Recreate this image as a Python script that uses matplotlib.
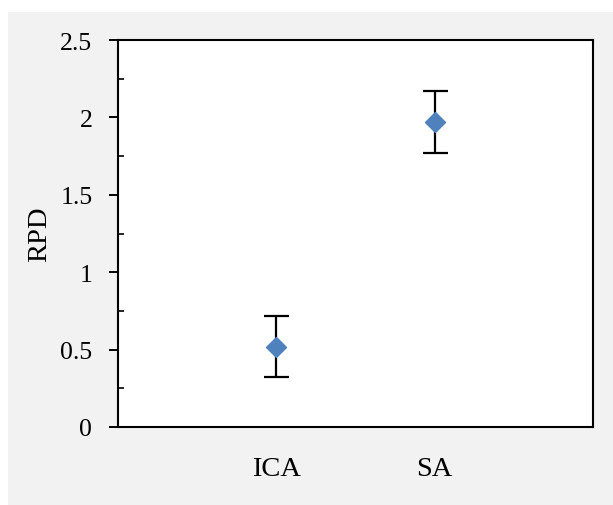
import matplotlib
matplotlib.use("Agg")
import matplotlib.pyplot as plt
from matplotlib.patches import Rectangle
from matplotlib.ticker import MultipleLocator

categories = ["ICA", "SA"]
rpd_values = [0.52, 1.97]
rpd_errors = [0.2, 0.2]
y_ticks = [0, 0.5, 1, 1.5, 2, 2.5]
y_tick_labels = ["0", "0.5", "1", "1.5", "2", "2.5"]

plt.rcParams['font.family'] = ['Liberation Serif', 'DejaVu Serif']

W, H = 613, 506
fig = plt.figure(figsize=(W / 100, H / 100), dpi=100)
fig.patch.set_facecolor("white")
fig.patches.append(Rectangle((8 / W, 0), 1 - 8 / W, 1 - 12.5 / H,
                             transform=fig.transFigure, facecolor="#f2f2f2",
                             edgecolor="none", zorder=-10))

ax = fig.add_axes([118 / W, 1 - 428 / H, (593 - 118) / W, (428 - 41) / H])
ax.set_facecolor("white")

x = list(range(1, len(categories) + 1))
ax.errorbar(x, rpd_values, yerr=rpd_errors, fmt="D", color="#4f81bd",
            markersize=10, markeredgecolor="#4f81bd", ecolor="black",
            elinewidth=1.6, capsize=9, capthick=1.6, zorder=3)

ax.set_xlim(0, 3)
ax.set_ylim(0, 2.5)
ax.set_xticks(x)
ax.set_xticklabels(categories, fontsize=20.5)
ax.set_yticks(y_ticks)
ax.set_yticklabels(y_tick_labels, fontsize=18.5)
ax.yaxis.set_minor_locator(MultipleLocator(0.25))

ax.tick_params(axis="x", length=0, pad=21)
ax.tick_params(axis="y", which="major", direction="out", length=6.5, width=1.4, pad=12)
ax.tick_params(axis="y", which="minor", direction="in", length=4.3, width=1.2)

for s in ax.spines.values():
    s.set_color("black")
    s.set_linewidth(1.5)

ax.set_ylabel("RPD", fontsize=20.5)
ax.yaxis.set_label_coords((52 - 118) / 475, 0.5)

fig.savefig("out.png", dpi=100, facecolor=fig.get_facecolor())
